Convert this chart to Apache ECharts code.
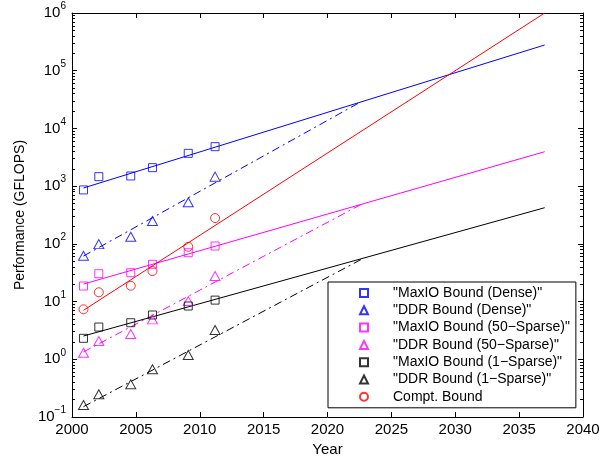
<!DOCTYPE html>
<html>
<head>
<meta charset="utf-8">
<script src="https://cdn.jsdelivr.net/npm/echarts@6/dist/echarts.min.js"></script>
<style>
  html, body { margin: 0; padding: 0; background: #fff; }
  #main { width: 616px; height: 460px; }
</style>
</head>
<body>
<div id="main"></div>
<script>
// measured years (x of the markers)
var years = [2000.9, 2002.1, 2004.6, 2006.3, 2009.1, 2011.2];

// marker values (GFLOPS)
var maxioDense = [860, 1460, 1500, 2090, 3700, 4830];
var ddrDense = [62, 99, 133, 249, 525, 1460];
var maxio50 = [18.6, 30.4, 31.6, 44.2, 70.2, 91.7];
var ddr50 = [1.30, 2.07, 2.74, 4.92, 10.2, 27.7];
var maxio1 = [2.31, 3.62, 4.30, 5.85, 8.38, 10.6];
var ddr1 = [0.161, 0.247, 0.368, 0.67, 1.19, 3.21];
var compt = [7.34, 14.5, 18.8, 33.8, 89, 280];

// trend lines: [year, value] endpoints
var maxioDenseFit = [[2000.9, 929], [2037, 279000]];
var ddrDenseFit = [[2000.9, 61.5], [2022.4, 27200]];
var maxio50Fit = [[2000.9, 20.1], [2037, 3950]];
var ddr50Fit = [[2000.9, 1.34], [2022.7, 490]];
var maxio1Fit = [[2000.9, 2.53], [2037, 423]];
var ddr1Fit = [[2000.9, 0.151], [2022.8, 56.1]];
var comptFit = [[2000.9, 7.06], [2037, 1000000]];

// tick values
var yMajor = [0.1, 1, 10, 100, 1000, 10000, 100000, 1000000];
var yMinor = [];
for (var e = -1; e < 6; e++) {
  for (var m = 2; m <= 9; m++) yMinor.push(m * Math.pow(10, e));
}

var chart = echarts.init(document.getElementById('main'));

var font = 'Liberation Sans, Arial, Helvetica, sans-serif';
var dashDot = [8, 4, 2, 4];

function pts(vals) {
  var arr = [];
  for (var i = 0; i < years.length; i++) arr.push([years[i], vals[i]]);
  return arr;
}

function markers(name, vals, symbol, size, color) {
  return {
    name: name,
    type: 'scatter',
    data: pts(vals),
    symbol: symbol,
    symbolSize: size,
    z: 3,
    itemStyle: { color: 'rgba(0,0,0,0)', borderColor: color, borderWidth: 1 },
    emphasis: { disabled: true }
  };
}

function fit(data, color, dashed) {
  return {
    type: 'line',
    data: data,
    showSymbol: false,
    silent: true,
    z: 2,
    lineStyle: { color: color, width: 1, type: dashed ? dashDot : 'solid' }
  };
}

function yAxisDef(pos, ticks, len, showLabel, showLine) {
  return {
    type: 'log',
    logBase: 10,
    min: 0.1,
    max: 1000000,
    position: pos,
    splitLine: { show: false },
    axisLine: { show: showLine, onZero: false, lineStyle: { color: '#000', width: 1 } },
    axisTick: { inside: true, length: len, customValues: ticks, lineStyle: { color: '#000' } },
    axisLabel: {
      show: showLabel,
      customValues: ticks,
      margin: 6,
      padding: [0, 0, 4, 0],
      color: '#000',
      fontFamily: font,
      formatter: function (v) {
        var p = Math.round(Math.log(v) / Math.LN10);
        return '{b|10}{s|' + (p < 0 ? '\u2212' + (-p) : p) + '}';
      },
      rich: {
        b: { fontSize: 15, fontFamily: font, color: '#000', verticalAlign: 'bottom' },
        s: { fontSize: 10, fontFamily: font, color: '#000', verticalAlign: 'bottom', padding: [0, 0, 9, 0] }
      }
    }
  };
}

var option = {
  backgroundColor: '#fff',
  animation: false,
  grid: { left: 72, right: 33, top: 13, bottom: 43, outerBoundsMode: 'none', containLabel: false },
  legend: {
    orient: 'vertical',
    left: 328,
    top: 282,
    data: ['"MaxIO Bound (Dense)"', '"DDR Bound (Dense)"', '"MaxIO Bound (50\u2212Sparse)"',
      '"DDR Bound (50\u2212Sparse)"', '"MaxIO Bound (1\u2212Sparse)"', '"DDR Bound (1\u2212Sparse)"', 'Compt. Bound'],
    itemWidth: 8,
    itemHeight: 8,
    itemGap: 3.3,
    padding: [4, 6, 4, 31],
    borderColor: '#000',
    borderWidth: 1,
    backgroundColor: '#fff',
    selectedMode: false,
    textStyle: { fontSize: 14, fontFamily: font, color: '#000', lineHeight: 14, padding: [0, 0, 0, 20] }
  },
  xAxis: [{
    type: 'value',
    min: 2000,
    max: 2040,
    interval: 5,
    name: 'Year',
    nameLocation: 'middle',
    nameGap: 25,
    nameTextStyle: { fontSize: 15, fontFamily: font, color: '#000' },
    splitLine: { show: false },
    axisLine: { onZero: false, lineStyle: { color: '#000', width: 1 } },
    axisTick: { inside: true, length: 5, lineStyle: { color: '#000' } },
    axisLabel: {
      margin: 5, fontSize: 15, fontFamily: font, color: '#000',
      formatter: function (v) { return String(v); }
    }
  }, {
    type: 'value',
    min: 2000,
    max: 2040,
    interval: 5,
    position: 'top',
    splitLine: { show: false },
    axisLine: { onZero: false, lineStyle: { color: '#000', width: 1 } },
    axisTick: { inside: true, length: 5, lineStyle: { color: '#000' } },
    axisLabel: { show: false }
  }],
  yAxis: [
    Object.assign(yAxisDef('left', yMajor, 5, true, true), {
      name: 'Performance (GFLOPS)',
      nameLocation: 'middle',
      nameGap: 44,
      nameTextStyle: { fontSize: 14, fontFamily: font, color: '#000' }
    }),
    yAxisDef('left', yMinor, 3, false, false),
    yAxisDef('right', yMajor, 5, false, true),
    yAxisDef('right', yMinor, 3, false, false)
  ],
  series: [
    fit(maxioDenseFit, '#0000ff', false),
    fit(ddrDenseFit, '#0000ff', true),
    fit(maxio50Fit, '#ff00ff', false),
    fit(ddr50Fit, '#ff00ff', true),
    fit(maxio1Fit, '#000000', false),
    fit(ddr1Fit, '#000000', true),
    fit(comptFit, '#ff0000', false),
    markers('"MaxIO Bound (Dense)"', maxioDense, 'rect', 8, '#0000ff'),
    markers('"DDR Bound (Dense)"', ddrDense, 'triangle', [10, 9], '#0000ff'),
    markers('"MaxIO Bound (50\u2212Sparse)"', maxio50, 'rect', 8, '#ff00ff'),
    markers('"DDR Bound (50\u2212Sparse)"', ddr50, 'triangle', [10, 9], '#ff00ff'),
    markers('"MaxIO Bound (1\u2212Sparse)"', maxio1, 'rect', 8, '#000000'),
    markers('"DDR Bound (1\u2212Sparse)"', ddr1, 'triangle', [10, 9], '#000000'),
    markers('Compt. Bound', compt, 'circle', 9, '#ff0000')
  ]
};

chart.setOption(option);
</script>
</body>
</html>
